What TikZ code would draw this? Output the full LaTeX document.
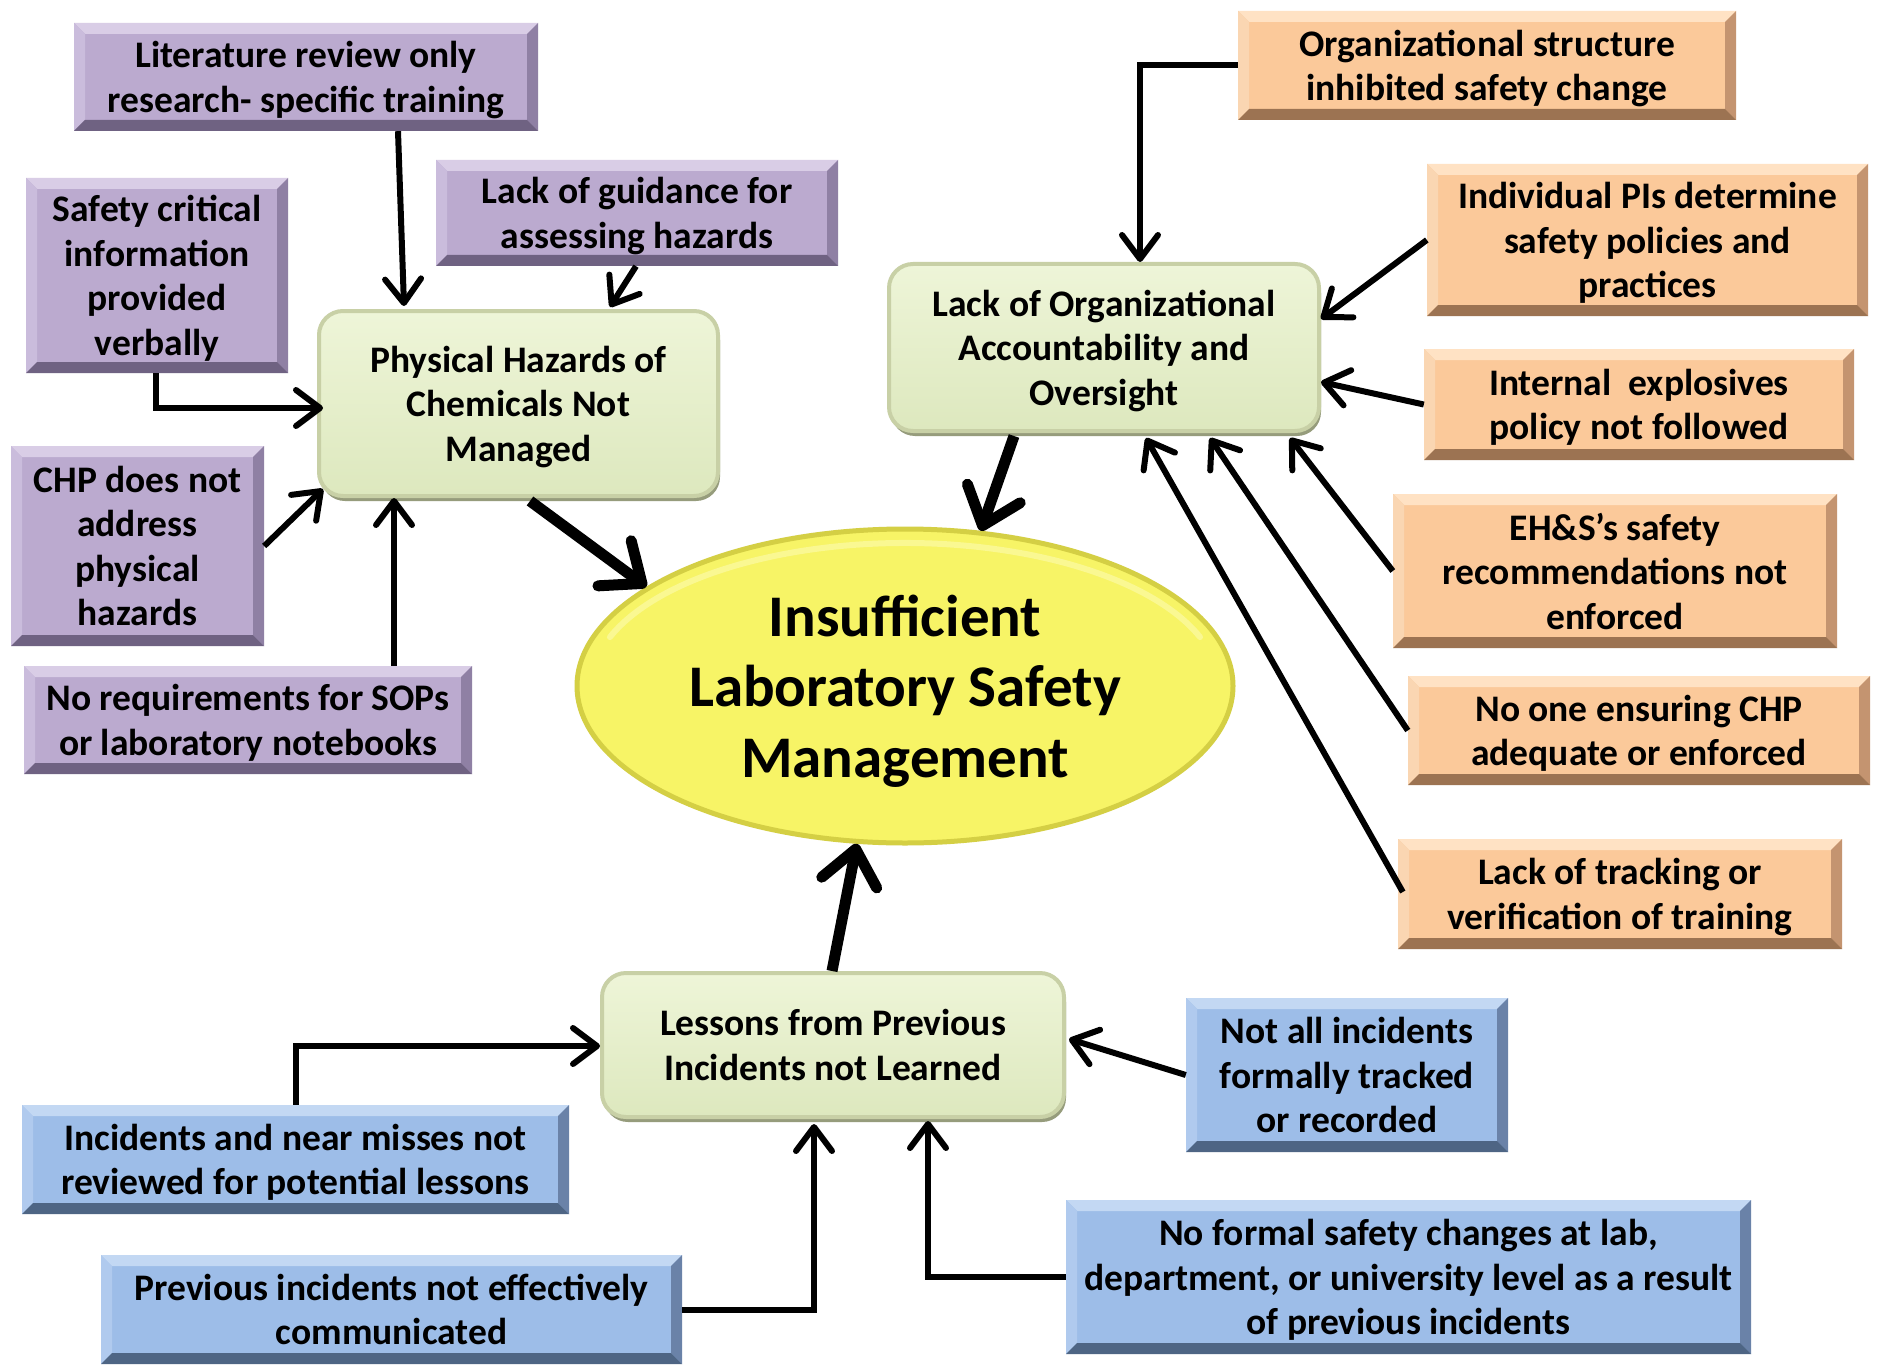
\documentclass[tikz,border=0pt]{standalone}
\usepackage{fontspec}
\setmainfont{Carlito}
\usetikzlibrary{arrows.meta,shadows,calc,shapes.geometric}
\definecolor{pmain}{HTML}{BBAACF}
\definecolor{ptop}{HTML}{D9CDE6}
\definecolor{pleft}{HTML}{CABCDC}
\definecolor{pright}{HTML}{8F80A4}
\definecolor{pbot}{HTML}{6F6282}
\definecolor{omain}{HTML}{FBC99A}
\definecolor{otop}{HTML}{FFE2C4}
\definecolor{oleft}{HTML}{FAD6B2}
\definecolor{oright}{HTML}{C49470}
\definecolor{obot}{HTML}{9C7352}
\definecolor{bmain}{HTML}{9DBDE8}
\definecolor{btop}{HTML}{C3D8F3}
\definecolor{bleft}{HTML}{B0CAEE}
\definecolor{bright}{HTML}{6A82A8}
\definecolor{bbot}{HTML}{4E6584}
\definecolor{gtop}{HTML}{EEF5D8}
\definecolor{gbot}{HTML}{DDE8BE}
\definecolor{gedge}{HTML}{C8D0A6}
\definecolor{gshadow}{HTML}{969C7C}
\definecolor{ymain}{HTML}{F7F466}
\definecolor{yedge}{HTML}{D4CF44}
\definecolor{yhi}{HTML}{FAF892}
\newcommand\tstrut{\rule{0pt}{26pt}}
\newcommand\estrut{\rule{0pt}{41pt}}
\tikzset{
  bevel/.style n args={4}{path picture={
    \coordinate (NW) at (path picture bounding box.north west);
    \coordinate (NE) at (path picture bounding box.north east);
    \coordinate (SW) at (path picture bounding box.south west);
    \coordinate (SE) at (path picture bounding box.south east);
    \fill[#1] (NW) -- (NE) -- ([shift={(-11pt,-11pt)}]NE) -- ([shift={(11pt,-11pt)}]NW) -- cycle;
    \fill[#2] (NW) -- (SW) -- ([shift={(11pt,11pt)}]SW) -- ([shift={(11pt,-11pt)}]NW) -- cycle;
    \fill[#3] (NE) -- (SE) -- ([shift={(-11pt,11pt)}]SE) -- ([shift={(-11pt,-11pt)}]NE) -- cycle;
    \fill[#4] (SW) -- (SE) -- ([shift={(-11pt,11pt)}]SE) -- ([shift={(11pt,11pt)}]SW) -- cycle;
  }},
  boxbase/.style={rectangle, inner sep=0pt, align=center, text=black, text depth=0pt,
    font=\fontsize{37.5}{44.5}\selectfont\bfseries},
  pbox/.style={boxbase, fill=pmain, bevel={ptop}{pleft}{pright}{pbot}},
  obox/.style={boxbase, fill=omain, bevel={otop}{oleft}{oright}{obot}},
  bbox/.style={boxbase, fill=bmain, bevel={btop}{bleft}{bright}{bbot}},
  gbox/.style={boxbase, rounded corners=24pt, top color=gtop, bottom color=gbot,
    draw=gedge, line width=4pt,
    drop shadow={shadow xshift=2pt, shadow yshift=-5pt, fill=gshadow, opacity=1}},
  ybox/.style={ellipse, inner sep=0pt, align=center, text=black, text depth=0pt, fill=ymain,
    draw=yedge, line width=5pt,
    font=\fontsize{59}{70.5}\selectfont\bfseries},
  thin/.style={line width=6pt, -{Straight Barb[length=24pt,width=36pt,round]}},
  thick/.style={line width=11pt, -{Straight Barb[length=34pt,width=56pt,round]}},
}
\begin{document}
\begin{tikzpicture}[x=1pt,y=-1pt]
\useasboundingbox[fill=white] (0,0) rectangle (1881,1372);

% purple
\node[pbox, minimum width=464pt, minimum height=108pt] (p1) at (306,77) {\tstrut Literature review only\\research- specific training};
\node[pbox, minimum width=402pt, minimum height=106pt] (p2) at (637,213) {\tstrut Lack of guidance for\\assessing hazards};
\node[pbox, minimum width=262pt, minimum height=195pt] (p3) at (157,275.5) {\tstrut Safety critical\\information\\provided\\verbally};
\node[pbox, minimum width=253pt, minimum height=200pt] (p4) at (137.5,546) {\tstrut CHP does not\\address\\physical\\hazards};
\node[pbox, minimum width=448pt, minimum height=108pt] (p5) at (248,720) {\tstrut No requirements for SOPs\\or laboratory notebooks};

% green
\node[gbox, minimum width=399pt, minimum height=185pt] (g1) at (518.5,403.5) {\tstrut Physical Hazards of\\Chemicals Not\\Managed};
\node[gbox, minimum width=430pt, minimum height=167pt] (g2) at (1104,347.5) {\tstrut Lack of Organizational\\Accountability and\\Oversight};
\node[gbox, minimum width=462pt, minimum height=144pt] (g3) at (833,1045) {\tstrut Lessons from Previous\\Incidents not Learned};

% ellipse
\node[ybox, minimum width=656pt, minimum height=314pt] (e) at (905,686) {\estrut Insufficient\\Laboratory Safety\\Management};
\draw[yhi, line width=6pt, line cap=round] ([shift={(-295.1pt,48.9pt)}]e.center) arc[start angle=160, end angle=20, x radius=314pt, y radius=143pt];

% orange
\node[obox, minimum width=498pt, minimum height=109pt] (o1) at (1487,65.5) {\tstrut Organizational structure\\inhibited safety change};
\node[obox, minimum width=441pt, minimum height=152pt] (o2) at (1647.5,240) {\tstrut Individual PIs determine\\safety policies and\\practices};
\node[obox, minimum width=430pt, minimum height=111pt] (o3) at (1639,404.5) {\tstrut Internal\ \ explosives\\policy not followed};
\node[obox, minimum width=444pt, minimum height=154pt] (o4) at (1615,571) {\tstrut EH\&S’s safety\\recommendations not\\enforced};
\node[obox, minimum width=462pt, minimum height=109pt] (o5) at (1639,730.5) {\tstrut No one ensuring CHP\\adequate or enforced};
\node[obox, minimum width=444pt, minimum height=110pt] (o6) at (1620,894) {\tstrut Lack of tracking or\\verification of training};

% blue
\node[bbox, minimum width=547pt, minimum height=109pt] (b1) at (295.5,1159.5) {\tstrut Incidents and near misses not\\reviewed for potential lessons};
\node[bbox, minimum width=581pt, minimum height=109pt] (b2) at (391.5,1309.5) {\tstrut Previous incidents not effectively\\communicated};
\node[bbox, minimum width=322pt, minimum height=154pt] (b3) at (1347,1075) {\tstrut Not all incidents\\formally tracked\\or recorded};
\node[bbox, minimum width=685pt, minimum height=154pt] (b4) at (1408.5,1277) {\tstrut No formal safety changes at lab,\\department, or university level as a result\\of previous incidents};

% arrows into g1
\draw[thin] ([xshift=92pt]p1.south) -- ([xshift=-114.5pt,yshift=3pt]g1.north);
\draw[thin] ([xshift=-1pt]p2.south) -- ([xshift=91.5pt,yshift=2pt]g1.north);
\draw[thin] ([xshift=-1pt]p3.south) |- ([xshift=6pt,yshift=-4.5pt]g1.west);
\draw[thin] (p4.east) -- ([xshift=6pt,yshift=9pt]g1.south west);
\draw[thin] ([xshift=146pt]p5.north) -- ([xshift=-124.5pt]g1.south);

% main arrows
\draw[thick] ([xshift=11.5pt,yshift=-3pt]g1.south) -- (e.159);
\draw[thick] ([xshift=-90pt,yshift=-3pt]g2.south) -- (e.64);
\draw[thick] ([xshift=-1pt]g3.north) -- (e.253);

% arrows into g2
\draw[thin] (o1.west) -| ([xshift=36pt]g2.north);
\draw[thin] (o2.west) -- ([yshift=28.5pt]g2.east);
\draw[thin] (o3.west) -- ([yshift=-34.5pt]g2.east);
\draw[thin] (o4.west) -- ([xshift=-31pt,yshift=-5pt]g2.south east);
\draw[thin] (o5.west) -- ([xshift=106pt,yshift=-5pt]g2.south);
\draw[thin] ([xshift=5pt,yshift=2pt]o6.west) -- ([xshift=42pt,yshift=-5pt]g2.south);

% arrows into g3
\draw[thin] (b1.north) |- ([yshift=-1pt]g3.west);
\draw[thin] (b2.east) -| ([xshift=-19pt,yshift=-5pt]g3.south);
\draw[thin] (b3.west) -- ([xshift=3pt,yshift=6pt]g3.east);
\draw[thin] (b4.west) -| ([xshift=95pt,yshift=-2pt]g3.south);
\end{tikzpicture}
\end{document}
